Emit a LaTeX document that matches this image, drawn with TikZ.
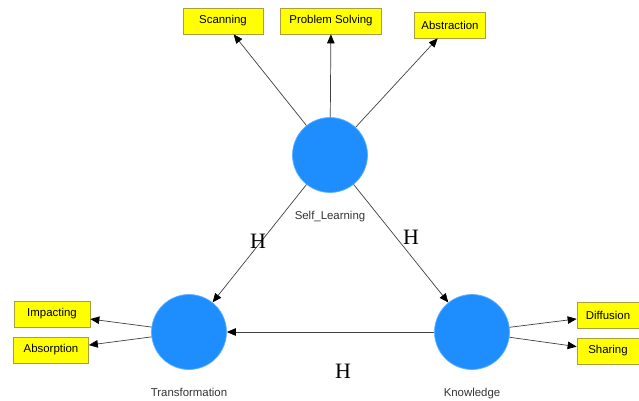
\documentclass[tikz,border=0pt]{standalone}
\usepackage{fontspec}
\setsansfont{Liberation Sans}
\setmainfont{Liberation Serif}
\usetikzlibrary{arrows.meta,positioning}
\definecolor{LVBlue}{HTML}{1E8EFF}
\definecolor{IndYellow}{HTML}{FFFF00}
\definecolor{IndBorder}{HTML}{A8A040}
\definecolor{PathGray}{HTML}{404040}
\tikzset{
  lvnode/.style={circle, fill=LVBlue, draw=LVBlue!70!white, minimum size=1.5cm, inner sep=0pt},
  indnode/.style={draw=IndBorder, fill=IndYellow, font=\sffamily\fontsize{6.5}{8}\selectfont,
                 minimum height=0.52cm, inner sep=2pt},
  lvarr/.style={-{Triangle[length=1.8mm,width=1.5mm,color=black]}, thin, PathGray},
  hlabel/.style={font=\fontsize{12.5}{14}\selectfont, inner sep=0pt},
  every label/.style={font=\sffamily\fontsize{6.5}{8}\selectfont, text=black!80}
}
\begin{document}
\begin{tikzpicture}[x=0.02cm, y=-0.02cm, label distance=7pt]
\useasboundingbox (0,0) rectangle (639,400);
% latent variables
\node[lvnode, label=below:Self\_Learning] (self) at (330,155) {};
\node[lvnode, label=below:Transformation] (trans) at (189,332) {};
\node[lvnode, label=below:Knowledge] (know) at (472,332) {};
% indicators
\node[indnode, minimum width=1.6cm] (scan) at (223,21) {Scanning};
\node[indnode, minimum width=2.02cm] (prob) at (331,21) {Problem Solving};
\node[indnode, minimum width=1.42cm] (abst) at (450,25) {Abstraction};
\node[indnode, minimum width=1.52cm] (impa) at (52,314) {Impacting};
\node[indnode, minimum width=1.5cm] (abso) at (51,350) {Absorption};
\node[indnode, minimum width=1.24cm] (diff) at (608,315) {Diffusion};
\node[indnode, minimum width=1.24cm] (shar) at (608,351) {Sharing};
% paths
\draw[lvarr] (self) -- (scan);
\draw[lvarr] (self) -- (prob);
\draw[lvarr] (self) -- (abst);
\draw[lvarr] (trans) -- (impa);
\draw[lvarr] (trans) -- (abso);
\draw[lvarr] (know) -- (diff);
\draw[lvarr] (know) -- (shar);
\draw[lvarr] (self) -- (trans);
\draw[lvarr] (self) -- (know);
\draw[lvarr] (know) -- (trans);
% hypotheses
\node[hlabel] (h1) at (258,241) {H};
\node[hlabel] (h2) at (411,237) {H};
\node[hlabel] (h3) at (343,371) {H};
\end{tikzpicture}
\end{document}
